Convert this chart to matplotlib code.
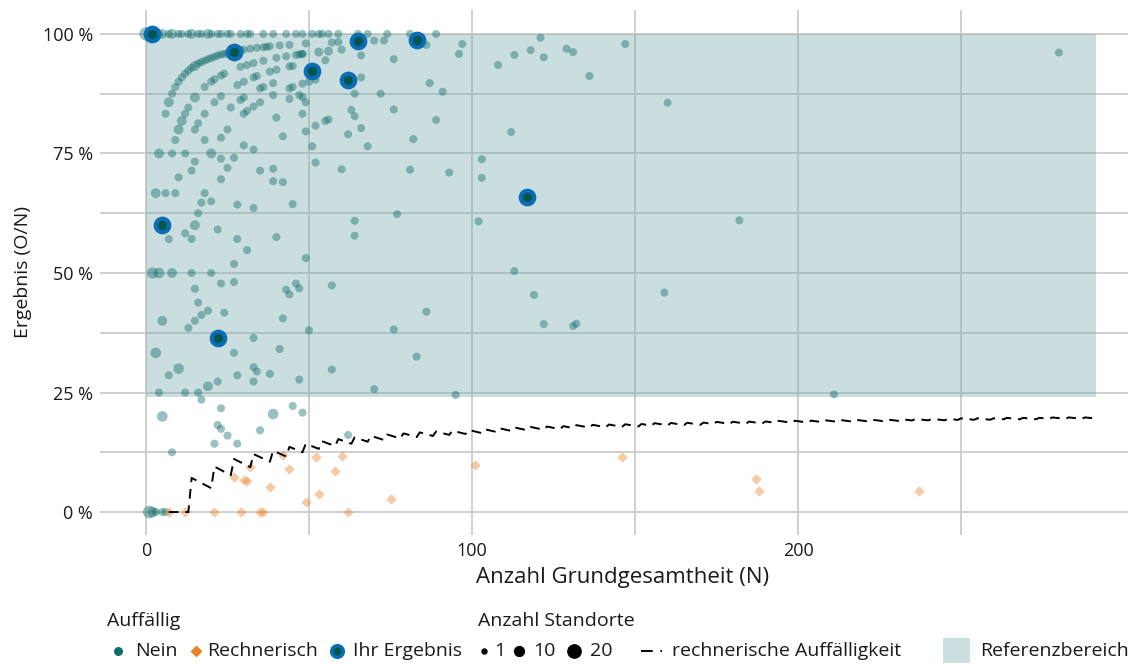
import numpy as np
import matplotlib
matplotlib.use("Agg")
import matplotlib.pyplot as plt
from matplotlib.patches import Rectangle
from matplotlib.lines import Line2D

plt.rcParams['font.family'] = ['Open Sans', 'DejaVu Sans']

# teal points "Nein": N, result in %, number of sites
nein_n = [0, 1, 3, 4, 5, 7, 8, 10, 11, 13, 14, 16, 17, 19, 20, 22, 23, 25, 26, 29, 31, 32, 36, 39,
          43, 46, 48, 51, 53, 54, 56, 59, 65, 68, 74, 81, 89,
          6, 7, 8, 9, 10, 11, 12, 13, 14, 15, 16, 17, 18, 19, 20, 21, 22, 23, 24, 25, 29, 30, 32, 34,
          36, 37, 38, 41, 44, 49, 57, 59, 70, 73,
          11, 10, 12, 13, 15, 18, 20, 21, 23, 24, 28, 30, 31, 33, 29, 36, 40, 38, 40, 43, 46, 47, 48,
          44, 45, 15, 16, 18, 21, 23, 26, 29, 30, 33, 34, 35, 36, 39, 39, 44, 45, 44, 47, 48,
          25, 30, 31, 33, 35, 40, 42, 48, 49,
          53, 56, 60, 55, 48, 86, 97, 96, 66, 66, 76, 72, 64, 50, 52, 87, 91, 76, 63, 64, 56, 55, 52,
          66, 62, 68, 82, 89, 51, 48, 49,
          108, 93, 103, 103, 81, 60,
          121, 147, 113, 118, 122, 129, 131, 136, 160, 112, 102, 182, 113, 119, 159, 122, 131, 132,
          280, 211, 95,
          9, 18, 23, 4, 8, 12, 20, 30, 33, 15, 23, 27, 25, 14, 35, 39, 10, 23, 39, 42, 3, 6, 9, 18,
          17, 20, 28, 33, 45, 16, 15, 7, 12, 14, 22, 28, 40, 31, 27, 49,
          52, 77, 64, 64,
          2, 4, 8, 14, 20, 23, 27, 15, 16, 19, 17, 24, 15, 13, 5, 33, 27, 3, 10, 7, 28, 33, 34, 38,
          33, 22, 19, 47, 41, 42, 43, 44, 46, 47, 4, 12, 16,
          57, 86, 50, 76, 83, 57, 70,
          17, 5, 23, 22, 23, 25, 21, 28, 8, 35, 39, 45, 48, 62,
          1, 2, 3, 5, 6]
nein_pct = [100] * 37 + [
    83.3, 85.7, 87.5, 88.9, 90.0, 90.9, 91.7, 92.3, 92.9, 93.3, 93.8, 94.1, 94.4, 94.7, 95.0, 95.2,
    95.5, 95.7, 95.8, 96.0, 96.6, 96.7, 96.9, 97.1, 97.2, 97.3, 97.4, 97.6, 97.7, 98.0, 98.2, 98.3,
    98.6, 98.6,
    81.8, 80.0, 83.3, 84.6, 86.7, 88.9, 90.0, 90.5, 91.3, 91.7, 89.3, 90.0, 93.5, 93.9, 93.1, 94.4,
    95.0, 92.1, 92.5, 95.3, 95.6, 95.7, 95.8, 93.2, 93.3, 80.0, 81.3, 83.3, 85.7, 87.0, 84.6, 86.2,
    86.7, 90.9, 91.2, 88.6, 88.9, 89.7, 87.2, 88.6, 88.9, 86.4, 87.2, 89.6,
    80.0, 83.3, 83.9, 84.8, 85.7, 82.5, 78.6, 83.3, 79.6,
    96.2, 96.4, 96.7, 94.5, 95.8, 97.7, 97.9, 95.8, 95.5, 90.9, 94.7, 87.5, 87.5, 90.0, 90.4, 89.7,
    87.9, 84.2, 84.1, 82.8, 82.1, 81.8, 80.8, 80.3, 79.0, 76.5, 78.0, 82.0, 76.5, 86.8, 85.7,
    93.5, 71.0, 73.8, 69.9, 71.6, 71.7,
    99.2, 97.9, 95.6, 96.6, 95.1, 96.9, 96.2, 91.2, 85.6, 79.5, 60.8, 61.0, 50.4, 45.4, 45.9, 39.3,
    38.9, 39.4, 96.1, 24.6, 24.5,
    77.8, 77.8, 78.3, 75.0, 75.0, 75.0, 75.0, 76.7, 75.8, 73.3, 73.9, 74.1, 72.0, 71.4, 71.4, 71.8,
    70.0, 69.6, 69.2, 69.0, 66.7, 66.7, 66.7, 66.7, 64.7, 65.0, 64.3, 63.6, 64.4, 62.5, 60.0, 57.1,
    58.3, 57.1, 59.1, 57.1, 57.5, 54.8, 51.9, 53.1,
    73.1, 62.3, 60.9, 57.8,
    50.0, 50.0, 50.0, 50.0, 50.0, 47.8, 48.1, 46.7, 43.8, 42.1, 41.2, 41.7, 40.0, 38.5, 40.0, 36.4,
    33.3, 33.3, 30.0, 28.6, 28.6, 30.3, 29.4, 28.9, 27.3, 27.3, 26.3, 27.7, 34.1, 40.5, 46.5, 45.5,
    47.8, 46.8, 25.0, 25.0, 25.0,
    47.4, 41.9, 38.0, 38.2, 32.5, 29.8, 25.7,
    23.5, 20.0, 21.7, 18.2, 17.4, 16.0, 14.3, 14.3, 12.5, 17.1, 20.5, 22.2, 20.8, 16.1,
    0, 0, 0, 0, 0]
big_sites = {(0, 100): 20, (1, 100): 12, (3, 100): 10, (5, 100): 10, (8, 100): 10, (14, 100): 10,
             (19, 100): 10, (7, 85.7): 10, (15, 93.3): 10, (15, 86.7): 10, (10, 80.0): 10,
             (11, 81.8): 10, (4, 75.0): 10, (20, 75.0): 10, (3, 66.7): 10, (15, 60.0): 10,
             (2, 50.0): 14, (4, 50.0): 12, (8, 50.0): 10, (5, 40.0): 10, (3, 33.3): 12,
             (10, 30.0): 12, (19, 26.3): 10, (5, 20.0): 12, (39, 20.5): 12, (1, 0): 18, (2, 0): 12,
             (53, 96.2): 8, (56, 96.4): 8}
nein_sites = [big_sites.get((n, p), 6) for n, p in zip(nein_n, nein_pct)]

# orange diamonds "Rechnerisch"
rech_n = [7, 12, 21, 29, 35, 36, 62, 27, 30, 31, 32, 38, 42, 44, 49, 52, 53, 58, 60, 75, 101, 146,
          187, 188, 237]
rech_pct = [0, 0, 0, 0, 0, 0, 0, 7.4, 6.7, 6.5, 9.4, 5.3, 11.9, 9.1, 2.0, 11.5, 3.8, 8.6, 11.7, 2.7,
            9.9, 11.6, 7.0, 4.3, 4.4]

# own results
ihr_n = [2, 27, 51, 65, 62, 83, 117, 5, 22]
ihr_pct = [100, 96.3, 92.2, 98.5, 90.3, 98.8, 65.8, 60.0, 36.4]

# threshold line (rechnerische Auffälligkeit): N and count O at the vertices
thr_n = [7, 13, 14, 20, 21, 26, 27, 32, 33, 38, 39, 43, 44, 48, 49, 53, 54, 58, 59, 63, 64, 68,
         69, 73, 74, 78, 79, 83, 84, 88, 89, 93, 94, 98, 99, 103, 104, 107, 108, 112, 113, 117,
         118, 122, 123, 127, 128, 131, 132, 136, 137, 141, 142, 146, 147, 151, 152, 155, 156, 160,
         161, 165, 166, 170, 171, 174, 175, 179, 180, 184, 185, 189, 190, 193, 194, 198, 199, 203,
         204, 207, 208, 212, 213, 217, 218, 221, 222, 226, 227, 231, 232, 235, 236, 240, 241, 245,
         246, 249, 250, 254, 255, 259, 260, 263, 264, 268, 269, 273, 274, 277, 278, 282, 283, 287,
         288, 291]
thr_o = [0, 0, 1, 1, 2, 2, 3, 3, 4, 4, 5, 5, 6, 6, 7, 7, 8, 8, 9, 9, 10, 10, 11, 11, 12, 12, 13, 13,
         14, 14, 15, 15, 16, 16, 17, 17, 18, 18, 19, 19, 20, 20, 21, 21, 22, 22, 23, 23, 24, 24, 25,
         25, 26, 26, 27, 27, 28, 28, 29, 29, 30, 30, 31, 31, 32, 32, 33, 33, 34, 34, 35, 35, 36, 36,
         37, 37, 38, 38, 39, 39, 40, 40, 41, 41, 42, 42, 43, 43, 44, 44, 45, 45, 46, 46, 47, 47, 48,
         48, 49, 49, 50, 50, 51, 51, 52, 52, 53, 53, 54, 54, 55, 55, 56, 56, 57, 57]

ref_lo, ref_hi = 24, 100
ref_n_max = 291.5

teal = '#0e6b68'
orange = '#e8832a'
blue = '#0b6db3'
dark_teal = '#00554f'
band_col = '#70a8ab'
grid_col = '#cccccc'
txt_col = '#1a1a1a'


def site_area(c):
    return (25 + (np.asarray(c) - 1) * 8) * 0.5184


fig = plt.figure(figsize=(11.34, 6.66), dpi=100)
ax = fig.add_axes([100 / 1134, 1 - 535 / 666, 1028 / 1134, 525 / 666])
ax.set_xlim(-14.1, 301.2)
ax.set_ylim(-4.8, 105)

ax.set_xticks([0, 100, 200])
ax.set_xticks([50, 150, 250], minor=True)
ax.set_yticks([0, 25, 50, 75, 100])
ax.set_yticklabels(['0 %', '25 %', '50 %', '75 %', '100 %'])
ax.set_yticks([12.5, 37.5, 62.5, 87.5], minor=True)
ax.grid(True, which='both', color=grid_col, linewidth=1.3, zorder=0)
ax.set_axisbelow(True)
for s in ax.spines.values():
    s.set_visible(False)
ax.tick_params(which='both', length=0)
ax.tick_params(axis='both', labelsize=13, labelcolor=txt_col, pad=5)

ax.add_patch(Rectangle((0, ref_lo), ref_n_max, ref_hi - ref_lo, facecolor=band_col, alpha=0.37,
                       edgecolor='none', zorder=1))

ax.plot(thr_n, 100 * np.array(thr_o) / np.array(thr_n), color='black', linewidth=1.4,
        linestyle=(0, (5, 3.5)), zorder=3)

ax.scatter(nein_n, nein_pct, s=site_area(nein_sites), color=teal, alpha=0.42, linewidths=0,
           zorder=2)
ax.scatter(rech_n, rech_pct, s=28, marker='D', color=orange, alpha=0.42, linewidths=0, zorder=2)
ax.scatter(ihr_n, ihr_pct, s=95, color=dark_teal, edgecolors=blue, linewidths=3, zorder=4)

ax.set_xlabel('Anzahl Grundgesamtheit (N)', fontsize=16, color=txt_col)
ax.xaxis.set_label_coords((623 - 100) / 1028, -(578 - 535) / 525)
ax.xaxis.label.set_va('center')
ax.set_ylabel('Ergebnis (O/N)', fontsize=14, color=txt_col, labelpad=8)

# legend drawn in pixel coordinates
lg = fig.add_axes([0, 0, 1, 70 / 666])
lg.set_xlim(0, 1134)
lg.set_ylim(666, 596)
lg.axis('off')
txt = dict(fontsize=14, color=txt_col, va='center')
lg.text(107, 621, 'Auffällig', **txt)
lg.text(478, 621, 'Anzahl Standorte', **txt)
row = 651
lg.scatter([118], [row], s=site_area(5), color=teal)
lg.text(135, row, 'Nein', **txt)
lg.scatter([196], [row], s=26, marker='D', color=orange)
lg.text(207, row, 'Rechnerisch', **txt)
lg.scatter([337], [row], s=70, color=dark_teal, edgecolors=blue, linewidths=2.5)
lg.text(353, row, 'Ihr Ergebnis', **txt)
for x, c, lab, tx in [(484, 1, '1', 494), (519, 10, '10', 533), (574, 20, '20', 590)]:
    lg.scatter([x], [row], s=site_area(c), color='black')
    lg.text(tx, row, lab, **txt)
lg.add_line(Line2D([641, 662], [row, row], color='black', linewidth=1.4, linestyle=(0, (6, 4))))
lg.text(672, row, 'rechnerische Auffälligkeit', **txt)
lg.add_patch(Rectangle((943, 638), 27, 25, facecolor='#cbdfe0', edgecolor='none'))
lg.text(980, row, 'Referenzbereich', **txt)

fig.savefig('out.png', dpi=100)
